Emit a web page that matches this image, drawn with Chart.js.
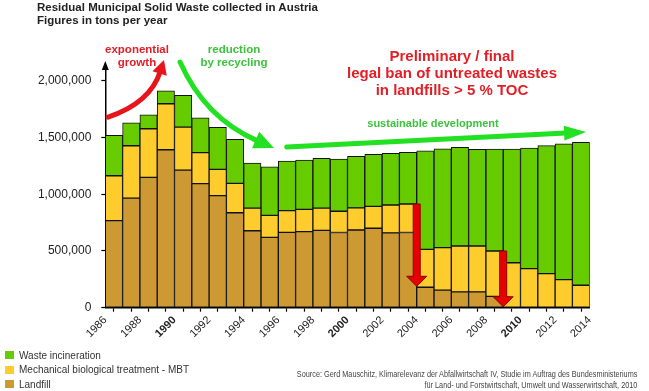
<!DOCTYPE html>
<html>
<head>
<meta charset="utf-8">
<script src="https://cdn.jsdelivr.net/npm/chart.js@4.4.1/dist/chart.umd.min.js"></script>
<style>
  body { margin: 0; background: #fff; font-family: 'Liberation Sans', Arial, sans-serif; }
  #wrap { position: relative; width: 649px; height: 391px; overflow: hidden; }
  #chart { position: absolute; left: 0; top: 0; }
  .title { position: absolute; left: 37px; top: 1px; font-size: 11.5px; font-weight: bold; color: #222; line-height: 13.4px; }
  .note { position: absolute; transform: translate(-50%, -50%); font-weight: bold; text-align: center; white-space: nowrap; }
  .red { color: #e21e26; }
  .green { color: #3cc23c; }
  #legend { position: absolute; left: 5px; top: 348px; font-size: 10px; color: #333; }
  #legend div { height: 14.6px; display: flex; align-items: center; }
  #legend span.box { display: inline-block; width: 9px; height: 8px; margin-right: 5px; }
  .source { position: absolute; right: 12px; top: 369px; font-size: 9px; color: #444; text-align: right;
            line-height: 11px; white-space: nowrap; transform: scaleX(0.81); transform-origin: right center; }
</style>
</head>
<body>
<div id="wrap">
  <canvas id="chart" width="649" height="391"></canvas>
  <div class="title">Residual Municipal Solid Waste collected in Austria<br>Figures in tons per year</div>
  <div class="note red" style="left:137px; top:55.5px; font-size:11.5px; line-height:13px;">exponential<br>growth</div>
  <div class="note green" style="left:234px; top:55.5px; font-size:11.5px; line-height:13px;">reduction<br>by recycling</div>
  <div class="note red" style="left:452px; top:73.3px; font-size:15px; line-height:16.7px;">Preliminary / final<br>legal ban of untreated wastes<br>in landfills &gt; 5 % TOC</div>
  <div class="note green" style="left:433px; top:123px; font-size:11px;">sustainable development</div>
  <div id="legend"></div>
  <div class="source">Source: Gerd Mauschitz, Klimarelevanz der Abfallwirtschaft IV, Studie im Auftrag des Bundesministeriums<br>für Land- und Forstwirtschaft, Umwelt und Wasserwirtschaft, 2010</div>
</div>
<script>
// Years (each bar spans one year, labels sit on the year boundaries)
const years = [1986, 1987, 1988, 1989, 1990, 1991, 1992, 1993, 1994, 1995,
               1996, 1997, 1998, 1999, 2000, 2001, 2002, 2003, 2004, 2005,
               2006, 2007, 2008, 2009, 2010, 2011, 2012, 2013];

// tons per year
const landfill = [767000, 966000, 1149000, 1392000, 1213000, 1093000, 987000, 837000, 678000, 620000,
                  664000, 670000, 682000, 663000, 685000, 700000, 660000, 663000, 180000, 155000,
                  140000, 140000, 100000, 0, 0, 0, 0, 0];
const mbt = [396000, 461000, 428000, 405000, 379000, 273000, 232000, 259000, 200000, 194000,
             191000, 197000, 196000, 187000, 195000, 193000, 245000, 251000, 334000, 374000,
             404000, 404000, 400000, 396000, 345000, 300000, 247000, 198000];
const incineration = [357000, 203000, 123000, 115000, 279000, 308000, 370000, 388000, 397000, 428000,
                      438000, 434000, 438000, 460000, 455000, 458000, 455000, 455000, 869000, 872000,
                      869000, 852000, 898000, 1002000, 1061000, 1129000, 1198000, 1259000];

// y axis tick values
const yTicks = [0, 500000, 1000000, 1500000, 2000000];

const FONT = "'Liberation Sans', Arial, sans-serif";

function toPoints(values) {
  return values.map((v, i) => ({ x: years[i] + 0.5, y: v }));
}

function barSet(label, values, color) {
  return {
    label: label,
    data: toPoints(values),
    backgroundColor: color,
    borderColor: '#111',
    borderWidth: 1,
    borderSkipped: false,
    barPercentage: 1,
    categoryPercentage: 1
  };
}

// Arrow helpers
function curveArrow(ctx, p0, c, tip, color, lw, hl, hw) {
  const dx = tip[0] - c[0], dy = tip[1] - c[1], d = Math.hypot(dx, dy);
  const ux = dx / d, uy = dy / d;
  const bx = tip[0] - ux * hl, by = tip[1] - uy * hl;
  ctx.save();
  ctx.strokeStyle = color;
  ctx.lineWidth = lw;
  ctx.lineCap = 'round';
  ctx.beginPath();
  ctx.moveTo(p0[0], p0[1]);
  ctx.quadraticCurveTo(c[0], c[1], bx + ux * 2, by + uy * 2);
  ctx.stroke();
  ctx.fillStyle = color;
  ctx.beginPath();
  ctx.moveTo(tip[0], tip[1]);
  ctx.lineTo(bx - uy * hw / 2, by + ux * hw / 2);
  ctx.lineTo(bx + uy * hw / 2, by - ux * hw / 2);
  ctx.closePath();
  ctx.fill();
  ctx.restore();
}

function downArrow(ctx, x, top, tip) {
  const sw = 7, hw = 20, hl = 10;
  ctx.save();
  ctx.fillStyle = '#e60000';
  ctx.strokeStyle = '#8a0000';
  ctx.lineWidth = 1;
  ctx.beginPath();
  ctx.moveTo(x - sw / 2, top);
  ctx.lineTo(x + sw / 2, top);
  ctx.lineTo(x + sw / 2, tip - hl);
  ctx.lineTo(x + hw / 2, tip - hl);
  ctx.lineTo(x, tip);
  ctx.lineTo(x - hw / 2, tip - hl);
  ctx.lineTo(x - sw / 2, tip - hl);
  ctx.closePath();
  ctx.fill();
  ctx.stroke();
  ctx.restore();
}

const annotate = {
  id: 'annotate',
  afterDraw(chart) {
    const ctx = chart.ctx;
    const x = chart.scales.x, y = chart.scales.y;
    const P = (yr, v) => [x.getPixelForValue(yr), y.getPixelForValue(v)];

    // arrow tip on the y axis
    const ax = chart.chartArea.left, at = chart.chartArea.top;
    ctx.save();
    ctx.fillStyle = '#000';
    ctx.beginPath();
    ctx.moveTo(ax, at - 5);
    ctx.lineTo(ax + 3.5, at + 4);
    ctx.lineTo(ax - 3.5, at + 4);
    ctx.closePath();
    ctx.fill();
    ctx.restore();

    // exponential growth
    curveArrow(ctx, P(1986.16, 1680000), P(1988.59, 1803000), P(1989.39, 2182000), '#e8141b', 5, 14, 15);
    // reduction by recycling
    curveArrow(ctx, P(1990.32, 2165000), P(1991.76, 1671000), P(1995.75, 1407000), '#22e022', 5, 20, 18);
    // sustainable development
    curveArrow(ctx, P(1996.49, 1416000), P(2005, 1482000), P(2013.79, 1548000), '#22e022', 5, 22, 15);

    // landfill bans 2004 / 2009
    [2004, 2009].forEach(yr => {
      const i = years.indexOf(yr);
      const top = landfill[i - 1] + mbt[i - 1];
      downArrow(ctx, x.getPixelForValue(yr), y.getPixelForValue(top), y.getPixelForValue(landfill[i]) - 1);
    });
  }
};

const chart = new Chart(document.getElementById('chart').getContext('2d'), {
  type: 'bar',
  data: {
    datasets: [
      barSet('Landfill', landfill, '#cc9933'),
      barSet('Mechanical biological treatment - MBT', mbt, '#ffcc2e'),
      barSet('Waste incineration', incineration, '#66cc00')
    ]
  },
  options: {
    responsive: false,
    animation: false,
    layout: { padding: { top: 66, right: 59.3, left: 0, bottom: 0 } },
    plugins: { legend: { display: false }, tooltip: { enabled: false } },
    scales: {
      x: {
        type: 'linear',
        min: 1986,
        max: 2014,
        stacked: true,
        offset: false,
        grid: { drawOnChartArea: false, color: '#000', tickLength: 4, tickWidth: 1.2 },
        border: { color: '#000', width: 1.5 },
        ticks: {
          stepSize: 1,
          autoSkip: false,
          maxRotation: 45,
          minRotation: 45,
          padding: 2,
          color: '#222',
          font: ctx => ({ family: FONT, size: 11, weight: (ctx.tick && ctx.tick.value % 10 === 0) ? 'bold' : 'normal' }),
          callback: v => (v % 2 === 0 ? String(v) : '')
        },
        afterFit: s => { s.height = 83.3; }
      },
      y: {
        stacked: true,
        min: 0,
        max: 2130000,
        grid: { drawOnChartArea: false, color: '#000', tickLength: 4, tickWidth: 1.2 },
        border: { color: '#000', width: 1.5 },
        ticks: {
          autoSkip: false,
          padding: 10,
          color: '#222',
          font: { family: FONT, size: 12 },
          callback: v => Number(v).toLocaleString('en-US')
        },
        afterBuildTicks: s => { s.ticks = yTicks.map(v => ({ value: v })); },
        afterFit: s => { s.width = 105.3; }
      }
    }
  },
  plugins: [annotate]
});

// legend, top to bottom as in the original
const legend = document.getElementById('legend');
chart.data.datasets.slice().reverse().forEach(ds => {
  const row = document.createElement('div');
  row.innerHTML = '<span class="box" style="background:' + ds.backgroundColor + '"></span>' + ds.label;
  legend.appendChild(row);
});
</script>
</body>
</html>
